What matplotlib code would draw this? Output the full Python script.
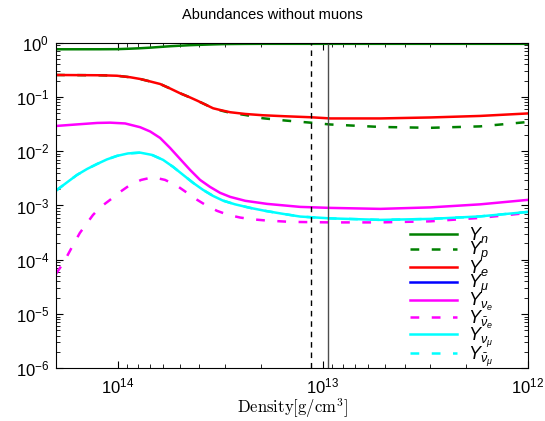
import matplotlib
matplotlib.use("agg")
import matplotlib.pyplot as plt
from matplotlib.ticker import LogLocator, NullFormatter

# density grid for nucleons / electrons [g/cm^3]
rho = [2.0e14, 1.22e14, 1.01e14, 8.71e13, 7.78e13, 6.95e13, 6.22e13, 5.56e13,
       4.97e13, 4.44e13, 4.10e13, 3.75e13, 3.43e13, 3.10e13, 2.83e13, 2.39e13,
       1.96e13, 1.53e13, 1.15e13, 9.2e12, 5.25e12, 2.99e12, 1.71e12, 1.0e12]
Y_n = [0.756, 0.757, 0.76, 0.775, 0.79, 0.81, 0.835, 0.86, 0.88, 0.90, 0.91, 0.92,
       0.93, 0.94, 0.945, 0.95, 0.953, 0.953, 0.953, 0.953, 0.953, 0.953, 0.953, 0.953]
Y_e = [0.254, 0.251, 0.246, 0.231, 0.2145, 0.193, 0.1735, 0.1434, 0.117, 0.0979,
       0.0855, 0.0728, 0.0619, 0.0564, 0.0523, 0.0486, 0.046, 0.0441, 0.0423,
       0.0402, 0.0402, 0.0419, 0.0447, 0.0497]
Y_p = [0.254, 0.251, 0.246, 0.231, 0.2145, 0.193, 0.1735, 0.1434, 0.117, 0.0979,
       0.0855, 0.0728, 0.0619, 0.0555, 0.051, 0.0465, 0.0405, 0.0368, 0.0336,
       0.0311, 0.028, 0.027, 0.0287, 0.0346]
Y_mu = []

rho_nue = [2.0e14, 1.58e14, 1.26e14, 1.09e14, 9.21e13, 7.78e13, 6.95e13, 6.22e13,
           5.56e13, 4.97e13, 4.44e13, 3.97e13, 3.55e13, 3.17e13, 2.83e13, 2.39e13,
           1.87e13, 1.29e13, 9.2e12, 5.25e12, 2.99e12, 1.71e12, 1.0e12]
Y_nue = [0.0292, 0.0312, 0.0332, 0.0336, 0.0325, 0.0277, 0.0231, 0.0176, 0.0115,
         0.00721, 0.00452, 0.00296, 0.0022, 0.00171, 0.00144, 0.00122, 0.00107,
         0.000942, 0.000903, 0.000866, 0.000923, 0.00105, 0.00127]

rho_nubar_e = [2.0e14, 1.87e14, 1.77e14, 1.65e14, 1.53e14, 1.41e14, 1.32e14, 1.21e14,
               1.09e14, 9.74e13, 8.71e13, 7.69e13, 6.73e13, 5.88e13, 5.14e13, 4.59e13,
               4.10e13, 3.67e13, 3.28e13, 2.89e13, 2.53e13, 2.19e13, 1.87e13, 1.44e13,
               9.2e12, 5.25e12, 2.99e12, 1.71e12, 1.0e12]
Y_nubar_e = [5.5e-5, 8.05e-5, 1.15e-4, 1.88e-4, 3.13e-4, 4.78e-4, 6.71e-4, 9.42e-4,
             0.00127, 0.00178, 0.00239, 0.00296, 0.00332, 0.00296, 0.0023, 0.00171,
             0.00127, 0.000983, 0.000796, 0.000671, 0.000599, 0.000555, 0.000527,
             0.000499, 0.000488, 0.000488, 0.000511, 0.000591, 0.00073]

rho_numu = [2.0e14, 1.77e14, 1.58e14, 1.41e14, 1.26e14, 1.13e14, 1.01e14, 8.91e13,
            7.78e13, 6.81e13, 6.01e13, 5.37e13, 4.80e13, 4.29e13, 3.84e13, 3.43e13,
            3.07e13, 2.68e13, 2.26e13, 1.91e13, 1.56e13, 1.29e13, 9.2e12, 5.25e12,
            2.99e12, 1.71e12, 1.0e12]
Y_numu = [0.00188, 0.00266, 0.00366, 0.00472, 0.00583, 0.00706, 0.00819, 0.00911,
          0.00942, 0.00855, 0.00692, 0.00514, 0.00366, 0.00261, 0.00194, 0.0015,
          0.00123, 0.00105, 0.000903, 0.000796, 0.0007, 0.000625, 0.000579,
          0.000543, 0.000566, 0.00063, 0.000762]
Y_nubar_mu = list(Y_numu)

rho_line_dash = 1.14e13
rho_line_solid = 9.4e12

plt.rcParams['font.family'] = ['Liberation Sans', 'DejaVu Sans']
plt.rcParams['mathtext.fontset'] = 'custom'
plt.rcParams['mathtext.rm'] = 'Liberation Sans'
plt.rcParams['mathtext.it'] = 'Liberation Sans:italic'
plt.rcParams['mathtext.bf'] = 'Liberation Sans:bold'

fig = plt.figure(figsize=(5.45, 4.21), dpi=100)
ax = fig.add_axes([0.1028, 0.1252, 0.8660, 0.7734])

lw = 1.8
dash = (0, (3.5, 5))
ax.plot(rho, Y_n, color="green", lw=lw, label=r"$Y_n$")
ax.plot(rho, Y_p, color="green", lw=lw, ls=dash, label=r"$Y_p$")
ax.plot(rho, Y_e, color="red", lw=lw, label=r"$Y_e$")
ax.plot([], Y_mu, color="blue", lw=lw, label=r"$Y_\mu$")
ax.plot(rho_nue, Y_nue, color="magenta", lw=lw, label=r"$Y_{\nu_e}$")
ax.plot(rho_nubar_e, Y_nubar_e, color="magenta", lw=lw, ls=dash,
        label=r"$Y_{\bar{\nu}_e}$")
ax.plot(rho_numu, Y_numu, color="cyan", lw=lw, label=r"$Y_{\nu_\mu}$")
ax.plot(rho_numu, Y_nubar_mu, color="cyan", lw=lw, ls=dash,
        label=r"$Y_{\bar{\nu}_\mu}$")

ax.axvline(rho_line_dash, color="black", lw=1, ls=(0, (4, 3.5)))
ax.axvline(rho_line_solid, color="0.3", lw=1)

ax.set_xscale("log")
ax.set_yscale("log")
ax.set_xlim(2.0e14, 1.0e12)
ax.set_ylim(1e-6, 1)

ax.xaxis.set_major_locator(LogLocator(base=10, numticks=10))
ax.xaxis.set_minor_locator(LogLocator(base=10, subs=range(2, 10), numticks=20))
ax.xaxis.set_minor_formatter(NullFormatter())
ax.yaxis.set_major_locator(LogLocator(base=10, numticks=10))
ax.yaxis.set_minor_locator(LogLocator(base=10, subs=range(2, 10), numticks=20))
ax.yaxis.set_minor_formatter(NullFormatter())
ax.tick_params(which="both", direction="in", top=True, right=True, labelsize=12)
ax.tick_params(which="major", length=5)
ax.tick_params(which="minor", length=3)
ax.tick_params(axis="x", which="major", pad=6)
ax.tick_params(axis="y", which="major", pad=5)

fig.text(0.5, 1 - 15 / 421, "Abundances without muons", fontsize=10.5,
         ha="center", va="center")
ax.set_xlabel(r"$\mathrm{Density[g/cm^3]}$", fontsize=12, math_fontfamily="cm",
              labelpad=0)

ax.legend(loc="lower right", bbox_to_anchor=(0.953, -0.04), frameon=False,
          fontsize=13, handlelength=2.6, labelspacing=-0.28, borderaxespad=0.3,
          handletextpad=0.6)

plt.savefig("out.png", dpi=100)
